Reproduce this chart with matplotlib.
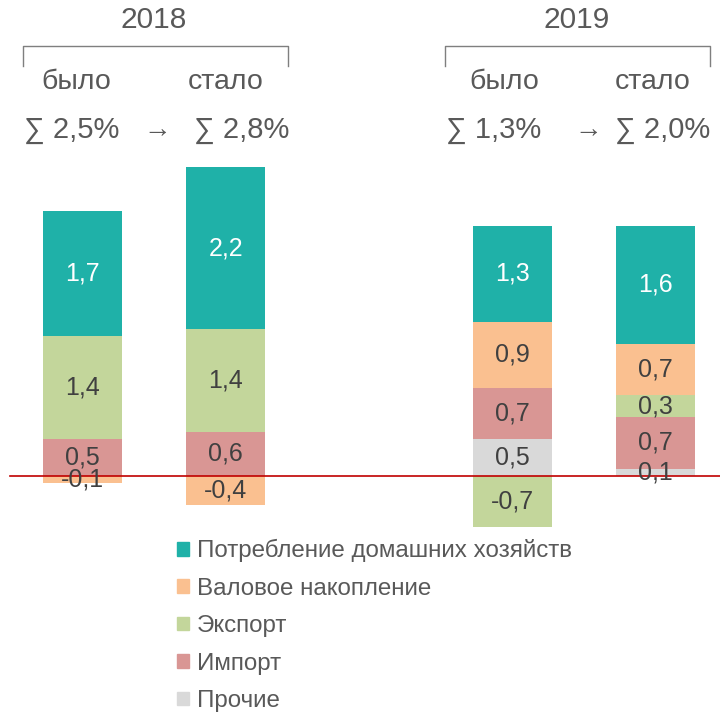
import numpy as np
import matplotlib.pyplot as plt
from matplotlib.patches import Patch
from matplotlib.lines import Line2D

plt.rcParams['font.family'] = ['Liberation Sans', 'DejaVu Sans']

# bar positions: 2018 было / стало, 2019 было / стало
positions = [0, 1, 3, 4]

# contributions, p.p.
prochie = [0.0, 0.0, 0.5, 0.1]
import_ = [0.5, 0.6, 0.7, 0.7]
export = [1.4, 1.4, -0.7, 0.3]
nakoplenie = [-0.1, -0.4, 0.9, 0.7]
potreblenie = [1.7, 2.2, 1.3, 1.6]

years = ['2018', '2019']
totals = ['2,5%', '2,8%', '1,3%', '2,0%']

series = [
    ('Прочие', prochie, '#D9D9D9', '#404040'),
    ('Импорт', import_, '#D99694', '#404040'),
    ('Экспорт', export, '#C3D69B', '#404040'),
    ('Валовое накопление', nakoplenie, '#FAC090', '#404040'),
    ('Потребление домашних хозяйств', potreblenie, '#1FB1A8', 'white'),
]

W, H = 720, 719
fig = plt.figure(figsize=(W / 100, H / 100), dpi=100)
ax = fig.add_axes([0, 0, 1, 1])
ax.axis('off')
ax.set_xlim(-0.576, 4.449)
ax.set_ylim(-3.306, 6.476)

pos_bottom = np.zeros(4)
neg_bottom = np.zeros(4)
for name, vals, col, tcol in series:
    vals = np.array(vals)
    bottom = np.where(vals >= 0, pos_bottom, neg_bottom)
    bars = ax.bar(positions, vals, 0.55, bottom=bottom, color=col, label=name)
    labels = ['' if v == 0 else f'{v:.1f}'.replace('.', ',') for v in vals]
    ax.bar_label(bars, labels=labels, label_type='center', fontsize=18, color=tcol)
    pos_bottom += np.where(vals > 0, vals, 0)
    neg_bottom += np.where(vals < 0, vals, 0)

ax.axhline(0, xmin=10 / W, xmax=1, color='#C00000', lw=1.2)


def px(x, y):
    return x / W, 1 - y / H


grey = '#595959'
# headers, brackets and totals
head_x = [154, 577]
bra = [(23, 288), (445, 710)]
word_x = [(76, 226), (504, 653)]
sum_x = [(72, 242), (494, 663)]
arrow_x = [157, 588]
for i in range(2):
    fig.text(*px(head_x[i], 20), years[i], ha='center', va='center', fontsize=21.5, color=grey)
    x0, x1 = bra[i]
    fig.add_artist(Line2D([x0 / W, x0 / W, x1 / W, x1 / W],
                          [1 - 66 / H, 1 - 46 / H, 1 - 46 / H, 1 - 66 / H],
                          color='#7F7F7F', lw=1))
    fig.text(*px(word_x[i][0], 82), 'было', ha='center', va='center', fontsize=20.5, color=grey)
    fig.text(*px(word_x[i][1], 82), 'стало', ha='center', va='center', fontsize=20.5, color=grey)
    fig.text(*px(sum_x[i][0], 130), '∑ ' + totals[2 * i], ha='center', va='center', fontsize=21, color=grey)
    fig.text(*px(sum_x[i][1], 130), '∑ ' + totals[2 * i + 1], ha='center', va='center', fontsize=21, color=grey)
    fig.text(*px(arrow_x[i], 130), '→', ha='center', va='center', fontsize=20, color=grey)

handles = [Patch(color=col, label=name) for name, vals, col, tcol in series][::-1]
leg = fig.legend(handles=handles, loc='upper left', bbox_to_anchor=(165 / W, 1 - 527 / H),
                 frameon=False, fontsize=17.4, handlelength=0.5, handleheight=0.5,
                 handletextpad=0.33, labelspacing=0.64, borderpad=0)
for t in leg.get_texts():
    t.set_color(grey)

fig.savefig('out.png', dpi=100)
